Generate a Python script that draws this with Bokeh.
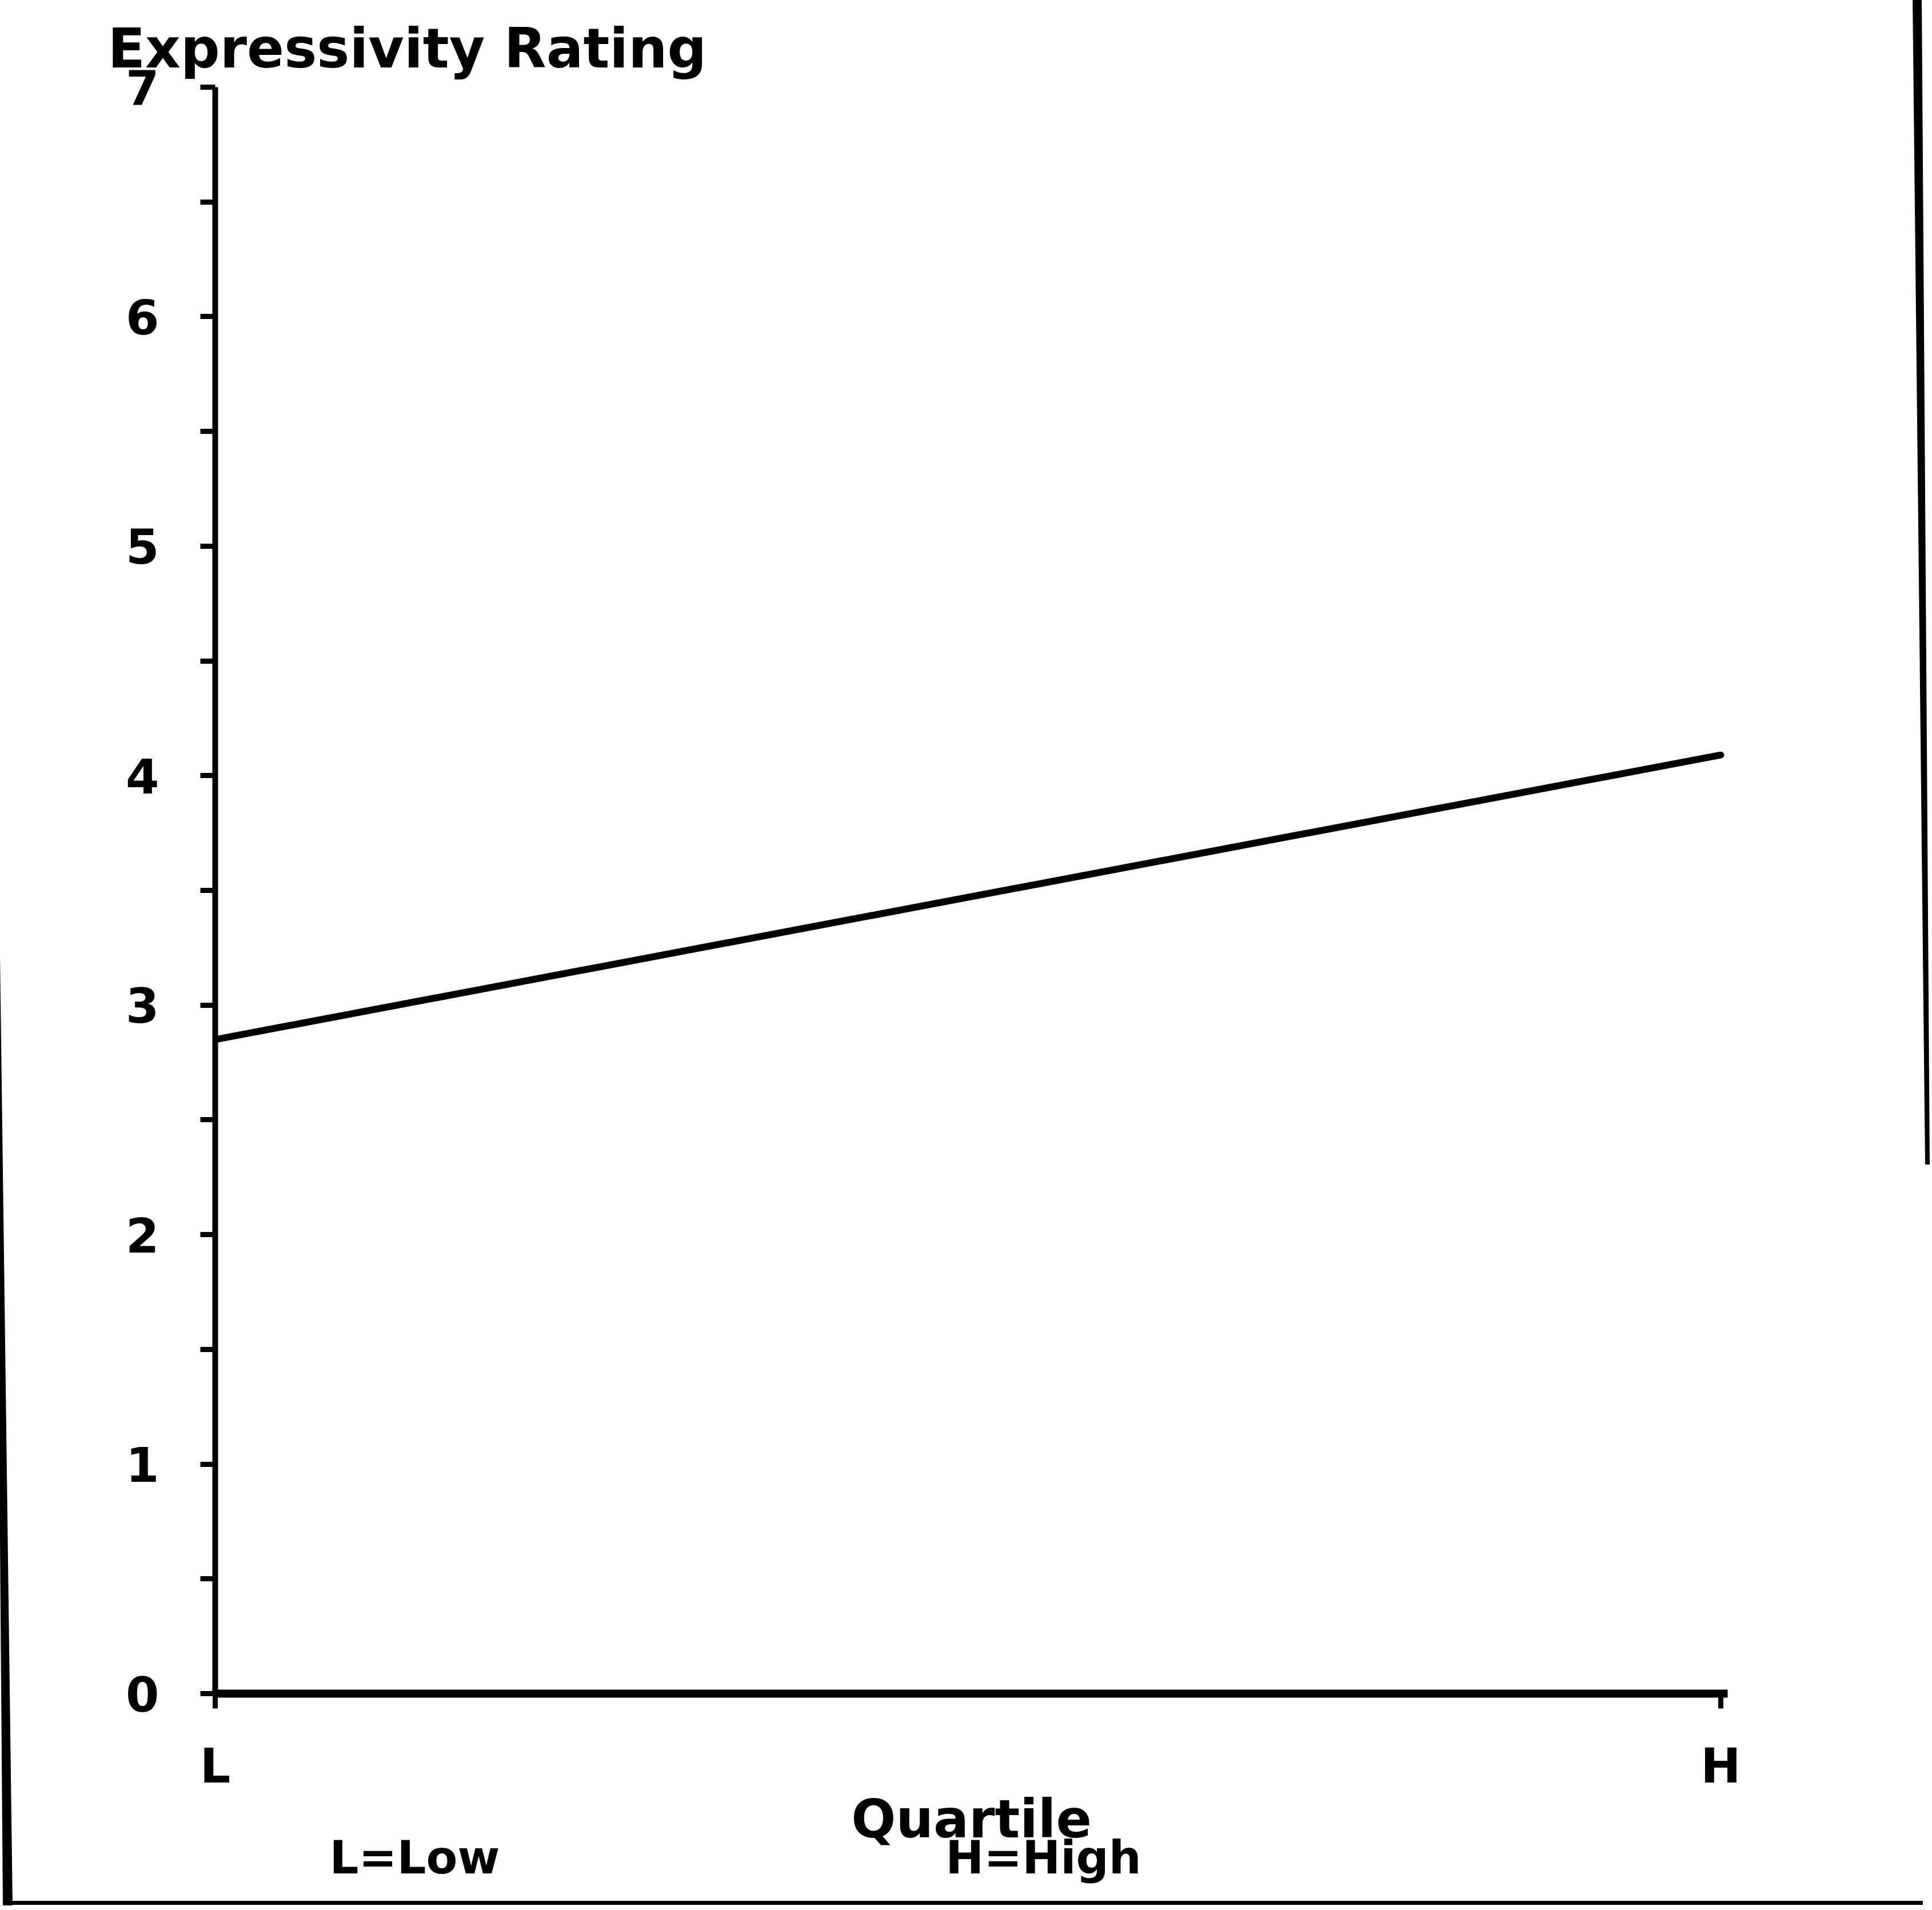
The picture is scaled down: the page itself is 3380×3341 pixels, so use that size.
from bokeh.plotting import figure
from bokeh.models import FixedTicker, Range1d, Title, InlineStyleSheet
from bokeh.embed import file_html
from bokeh.resources import INLINE

# ---- data ----
quartile_labels = ["L", "H"]
quartile_pos = [0, 1]
ratings = [2.85, 4.09]
y_major = [0, 1, 2, 3, 4, 5, 6, 7]
y_minor = [0.5, 1.5, 2.5, 3.5, 4.5, 5.5, 6.5]
title_text = "Expressivity Rating"
x_title = "Quartile"
note_low = "L=Low"
note_high = "H=High"

FONT = "DejaVu Sans"

W, H = 3364, 3325
p = figure(width=W, height=H, output_backend="svg", toolbar_location=None,
           x_range=Range1d(0, 1.0046), y_range=Range1d(0, 7),
           min_border_left=376, min_border_right=342,
           min_border_top=152, min_border_bottom=363)
p.title.text = title_text
p.title.align = "left"
p.title.offset = -188
p.title.standoff = 24
p.title.text_font = FONT
p.title.text_font_style = "bold"
p.title.text_font_size = "96px"
p.title.text_color = "black"
p.grid.visible = False
p.outline_line_color = None
p.background_fill_color = "white"
p.border_fill_color = "white"

# edges of the scanned/photocopied page (left, right and bottom strokes)
p.stylesheets = [InlineStyleSheet(css="""
:host { box-shadow: 4px 11px 0 -4px black; }
:host::before { content: ""; position: absolute; left: -8px; top: 1672px;
  width: 40px; height: 1661px; background: black;
  clip-path: polygon(0px 0px, 8px 0px, 30px 100%, 13px 100%);
  pointer-events: none; z-index: 5; }
:host::after { content: ""; position: absolute; left: 3346px; top: -8px;
  width: 34px; height: 2045px; background: black;
  clip-path: polygon(0px 0px, 16px 0px, 30px 100%, 22px 100%);
  pointer-events: none; z-index: 5; }
""")]

# data line
p.line(quartile_pos, ratings, line_width=12, line_color="black", line_cap="round")

# y axis
ya = p.yaxis[0]
ya.ticker = FixedTicker(ticks=y_major, minor_ticks=y_minor)
ya.axis_line_width = 10
ya.axis_line_color = "black"
ya.major_tick_in = 0
ya.major_tick_out = 26
ya.minor_tick_in = 0
ya.minor_tick_out = 26
ya.major_tick_line_width = 9
ya.minor_tick_line_width = 9
ya.major_tick_line_color = "black"
ya.minor_tick_line_color = "black"
ya.major_label_standoff = 72
ya.major_label_text_font = FONT
ya.major_label_text_font_style = "bold"
ya.major_label_text_font_size = "84px"
ya.major_label_text_color = "black"

# x axis
xa = p.xaxis[0]
xa.ticker = FixedTicker(ticks=quartile_pos)
xa.major_label_overrides = {pos: lab for pos, lab in zip(quartile_pos, quartile_labels)}
xa.axis_line_width = 14
xa.axis_line_color = "black"
xa.major_tick_in = 0
xa.major_tick_out = 26
xa.major_tick_line_width = 9
xa.major_tick_line_color = "black"
xa.minor_tick_line_color = None
xa.major_label_standoff = 51
xa.major_label_text_font = FONT
xa.major_label_text_font_style = "bold"
xa.major_label_text_font_size = "84px"
xa.major_label_text_color = "black"
xa.axis_label = x_title
xa.axis_label_standoff = -12
xa.axis_label_text_font = FONT
xa.axis_label_text_font_style = "bold"
xa.axis_label_text_font_size = "92px"
xa.axis_label_text_color = "black"

notes = Title(text=note_low + "\u00a0" * 28 + note_high, align="left", offset=200,
              standoff=-75, text_font=FONT, text_font_style="bold",
              text_font_size="80px", text_color="black")
p.add_layout(notes, "below")

open("out.html", "w").write(file_html(p, INLINE))
